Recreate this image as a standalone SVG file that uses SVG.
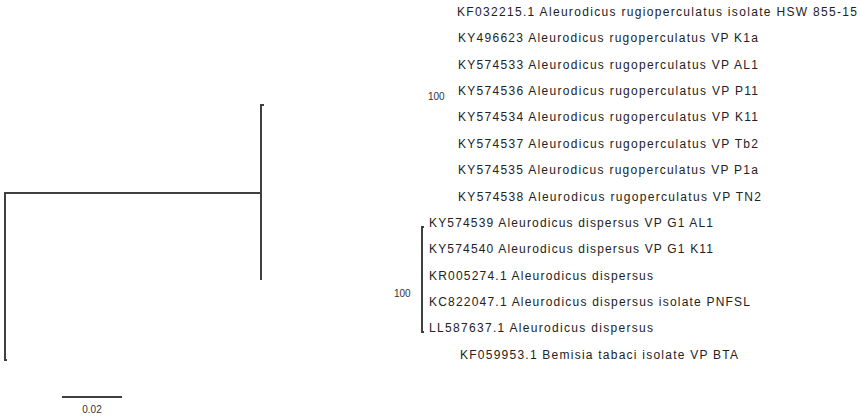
<svg xmlns="http://www.w3.org/2000/svg" width="860" height="420" viewBox="0 0 860 420">
<style>
.br{fill:none;stroke:#404040;stroke-width:2;stroke-linecap:butt}
.tip{font-family:"Liberation Sans",Arial,sans-serif;font-size:12px;fill:#222}
.bs{font-family:"Liberation Sans",Arial,sans-serif;font-size:10px;fill:#333}
</style>
<rect width="860" height="420" fill="#fff"/>
<g id="connectors">
<path class="br" d="M7,360 H5 V193 H261"/>
<path class="br" d="M264,105 H261 V280"/>
<path class="br" d="M424,227 H422 V332 H424"/>
</g>
<g id="scale-bar">
<line class="br" x1="62" y1="397" x2="122" y2="397"/>
<text class="bs" x="92" y="413" text-anchor="middle">0.02</text>
</g>
<g id="support-labels">
<text class="bs" x="428" y="100">100</text>
<text class="bs" x="394" y="297">100</text>
</g>
<g id="tip-1"><text class="tip" x="457" y="16" textLength="400" lengthAdjust="spacing">KF032215.1 Aleurodicus rugioperculatus isolate HSW 855-15</text></g>
<g id="tip-2"><text class="tip" x="458" y="42" textLength="300" lengthAdjust="spacing">KY496623 Aleurodicus rugoperculatus VP K1a</text></g>
<g id="tip-3"><text class="tip" x="458" y="69" textLength="300" lengthAdjust="spacing">KY574533 Aleurodicus rugoperculatus VP AL1</text></g>
<g id="tip-4"><text class="tip" x="458" y="95" textLength="300" lengthAdjust="spacing">KY574536 Aleurodicus rugoperculatus VP P11</text></g>
<g id="tip-5"><text class="tip" x="458" y="121" textLength="300" lengthAdjust="spacing">KY574534 Aleurodicus rugoperculatus VP K11</text></g>
<g id="tip-6"><text class="tip" x="458" y="148" textLength="300" lengthAdjust="spacing">KY574537 Aleurodicus rugoperculatus VP Tb2</text></g>
<g id="tip-7"><text class="tip" x="458" y="174" textLength="300" lengthAdjust="spacing">KY574535 Aleurodicus rugoperculatus VP P1a</text></g>
<g id="tip-8"><text class="tip" x="458" y="201" textLength="303" lengthAdjust="spacing">KY574538 Aleurodicus rugoperculatus VP TN2</text></g>
<g id="tip-9"><text class="tip" x="429" y="227" textLength="284" lengthAdjust="spacing">KY574539 Aleurodicus dispersus VP G1 AL1</text></g>
<g id="tip-10"><text class="tip" x="429" y="253" textLength="284" lengthAdjust="spacing">KY574540 Aleurodicus dispersus VP G1 K11</text></g>
<g id="tip-11"><text class="tip" x="429" y="280" textLength="224" lengthAdjust="spacing">KR005274.1 Aleurodicus dispersus</text></g>
<g id="tip-12"><text class="tip" x="429" y="306" textLength="321" lengthAdjust="spacing">KC822047.1 Aleurodicus dispersus isolate PNFSL</text></g>
<g id="tip-13"><text class="tip" x="429" y="332" textLength="224" lengthAdjust="spacing">LL587637.1 Aleurodicus dispersus</text></g>
<g id="tip-14"><text class="tip" x="460" y="359" textLength="278" lengthAdjust="spacing">KF059953.1 Bemisia tabaci isolate VP BTA</text></g>
</svg>
